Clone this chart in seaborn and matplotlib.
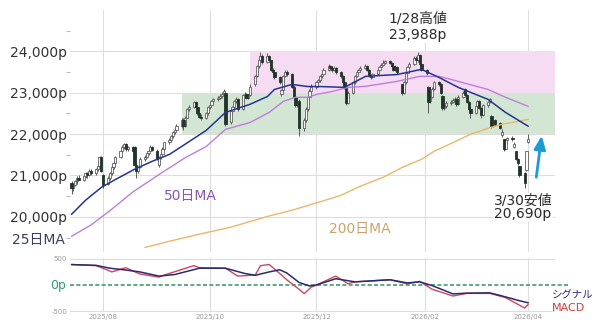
import numpy as np
import pandas as pd
import matplotlib
matplotlib.use("Agg")
import matplotlib.pyplot as plt
import matplotlib.dates as mdates
import seaborn as sns

sns.set_theme(style="white")
plt.rcParams["font.family"] = ["DejaVu Sans", "Noto Sans CJK JP"]
plt.rcParams["axes.unicode_minus"] = False

# ---- daily candles (2025-07-14 .. 2026-04-01, business days) ----
days = pd.bdate_range("2025-07-14", "2026-04-01")

opens = [
    20820, 20700, 20780, 20860, 20940,
    20900, 20980, 21050, 21000, 21120,
    21060, 21150, 21220, 21450, 21000,
    20800, 20950, 21050, 21200, 21300,
    21450, 21600, 21700, 21750, 21650,
    21680, 21700, 21250, 21100, 21200,
    21400, 21450, 21550, 21600, 21700,
    21600, 21250, 21440, 21520, 21650,
    21800, 21850, 21950, 22050, 22100,
    22200, 22350, 22200, 22400, 22600,
    22650, 22780, 22650, 22500, 22420,
    22400, 22500, 22650, 22700, 22800,
    22850, 22880, 22920, 22980, 23000,
    22300, 22550, 22650, 22800, 22850,
    22600, 22950, 22980, 22880, 22950,
    23200, 23400, 23650, 23800, 23900,
    23750, 23900, 23780, 23550, 23500,
    23380, 22980, 23060, 23400, 23500,
    23450, 23150, 22900, 22700, 22800,
    22150, 22350, 22600, 22900, 23050,
    23150, 23250, 23300, 23400, 23450,
    23550, 23650, 23600, 23550, 23600,
    23500, 23400, 23250, 23150, 22750,
    23000, 23250, 23400, 23500, 23550,
    23600, 23650, 23550, 23400, 23380,
    23450, 23550, 23620, 23680, 23730,
    23760, 23720, 23650, 23560, 23620,
    23200, 23000, 23250, 23480, 23620,
    23700, 23850, 23780, 23920, 23700,
    23550, 23150, 22800, 22900, 23100,
    23250, 23200, 22920, 22620, 22680,
    22750, 22780, 22830, 22860, 22720,
    22900, 23080, 22950, 22780, 22600,
    22520, 22680, 22800, 22640, 22450,
    22700, 22780, 22430, 22200, 22350,
    22280, 21980, 21870, 21650, 21850,
    21900, 21700, 21580, 21400, 21220,
    21070, 21140, 21800,
]
highs = [
    20860, 20800, 20900, 20980, 21010,
    21020, 21090, 21080, 21150, 21160,
    21180, 21260, 21480, 21480, 21040,
    20980, 21080, 21230, 21340, 21480,
    21630, 21730, 21790, 21780, 21720,
    21720, 21720, 21280, 21240, 21440,
    21490, 21580, 21640, 21730, 21720,
    21640, 21470, 21560, 21680, 21820,
    21900, 21980, 22080, 22150, 22240,
    22380, 22380, 22430, 22640, 22700,
    22800, 22800, 22680, 22540, 22480,
    22540, 22680, 22740, 22830, 22880,
    22920, 22960, 23010, 23090, 23050,
    22580, 22690, 22830, 22900, 22870,
    22980, 23020, 23000, 22980, 23220,
    23430, 23680, 23840, 23980, 23930,
    23950, 23920, 23800, 23600, 23520,
    23400, 23100, 23430, 23560, 23540,
    23470, 23180, 22940, 22860, 22840,
    22400, 22650, 22930, 23100, 23200,
    23290, 23340, 23440, 23480, 23590,
    23690, 23680, 23630, 23640, 23620,
    23520, 23420, 23280, 23170, 23030,
    23280, 23430, 23530, 23580, 23640,
    23690, 23670, 23570, 23440, 23480,
    23580, 23650, 23710, 23780, 23800,
    23790, 23740, 23670, 23660, 23640,
    23220, 23280, 23510, 23650, 23740,
    23880, 23880, 23988, 23940, 23720,
    23580, 23170, 22950, 23140, 23290,
    23280, 23230, 22940, 22720, 22790,
    22820, 22870, 22900, 22880, 22940,
    23040, 23110, 22980, 22800, 22640,
    22710, 22830, 22820, 22660, 22730,
    22810, 22880, 22460, 22340, 22370,
    22300, 22120, 21890, 21880, 21940,
    21950, 21800, 21600, 21420, 21240,
    21090, 21600, 22000,
]
lows = [
    20560, 20620, 20740, 20800, 20880,
    20860, 20940, 20950, 20980, 21020,
    21020, 21100, 21200, 21080, 20700,
    20760, 20900, 21020, 21150, 21260,
    21420, 21560, 21650, 21600, 21600,
    21560, 21220, 20950, 21060, 21180,
    21350, 21420, 21500, 21560, 21580,
    21380, 21200, 21400, 21480, 21620,
    21760, 21820, 21900, 22000, 22060,
    22150, 22100, 22180, 22380, 22560,
    22620, 22600, 22450, 22380, 22340,
    22360, 22470, 22600, 22660, 22750,
    22800, 22840, 22880, 22940, 22200,
    22250, 22500, 22600, 22760, 22560,
    22580, 22900, 22840, 22850, 22920,
    23160, 23380, 23600, 23760, 23700,
    23720, 23750, 23520, 23450, 23340,
    23220, 22920, 23040, 23370, 23400,
    23120, 22880, 22650, 22660, 21950,
    22080, 22300, 22560, 22860, 23000,
    23100, 23200, 23260, 23350, 23420,
    23520, 23560, 23500, 23520, 23460,
    23360, 23220, 23100, 22700, 22720,
    22980, 23220, 23370, 23460, 23520,
    23570, 23520, 23370, 23340, 23350,
    23420, 23520, 23590, 23650, 23700,
    23690, 23620, 23520, 23530, 23460,
    22940, 22970, 23220, 23450, 23590,
    23670, 23740, 23750, 23660, 23520,
    23440, 22520, 22760, 22870, 23060,
    23160, 22960, 22580, 22580, 22640,
    22710, 22740, 22790, 22690, 22700,
    22870, 22920, 22750, 22570, 22400,
    22480, 22640, 22600, 22400, 22430,
    22660, 22740, 22150, 22160, 22200,
    22120, 21940, 21600, 21620, 21800,
    21840, 21660, 21370, 21260, 20960,
    20690, 21100, 21780,
]
closes = [
    20700, 20780, 20860, 20940, 20900,
    20980, 21050, 21000, 21120, 21060,
    21150, 21220, 21450, 21100, 20780,
    20950, 21050, 21200, 21300, 21450,
    21600, 21700, 21750, 21650, 21680,
    21600, 21250, 21100, 21200, 21400,
    21450, 21550, 21600, 21700, 21620,
    21400, 21440, 21520, 21650, 21800,
    21850, 21950, 22050, 22100, 22200,
    22350, 22200, 22400, 22600, 22650,
    22780, 22650, 22500, 22420, 22400,
    22500, 22650, 22700, 22800, 22850,
    22880, 22920, 22980, 23050, 22250,
    22550, 22650, 22800, 22850, 22600,
    22950, 22980, 22880, 22950, 23150,
    23400, 23650, 23800, 23900, 23750,
    23900, 23780, 23550, 23500, 23380,
    23250, 23060, 23400, 23500, 23450,
    23150, 22900, 22700, 22800, 22150,
    22350, 22600, 22900, 23050, 23150,
    23250, 23300, 23400, 23450, 23550,
    23650, 23600, 23550, 23600, 23500,
    23400, 23250, 23150, 22750, 23000,
    23250, 23400, 23500, 23550, 23600,
    23650, 23550, 23400, 23380, 23450,
    23550, 23620, 23680, 23730, 23760,
    23720, 23650, 23560, 23620, 23500,
    23000, 23250, 23480, 23620, 23700,
    23850, 23780, 23920, 23700, 23550,
    23480, 22770, 22900, 23100, 23250,
    23200, 23000, 22620, 22680, 22750,
    22780, 22830, 22860, 22720, 22900,
    23000, 22950, 22780, 22600, 22520,
    22680, 22800, 22640, 22450, 22700,
    22780, 22850, 22200, 22300, 22250,
    22150, 22050, 21650, 21850, 21900,
    21880, 21750, 21400, 21300, 21000,
    20830, 21580, 21880,
]

# ---- moving averages ----
ma25_dates = ["2025-07-14", "2025-07-22", "2025-07-31", "2025-08-08", "2025-08-19",
              "2025-08-29", "2025-09-08", "2025-09-16", "2025-09-29", "2025-10-10",
              "2025-10-24", "2025-11-03", "2025-11-07", "2025-11-17", "2025-11-26",
              "2025-12-03", "2025-12-17", "2025-12-29", "2026-01-16", "2026-01-30",
              "2026-02-09", "2026-02-20", "2026-03-09", "2026-03-19", "2026-04-01"]
ma25_vals = [20060, 20400, 20710, 20900, 21150, 21340, 21510, 21730, 22090, 22525,
             22720, 22910, 23080, 23200, 23150, 23150, 23130, 23395, 23440, 23565,
             23370, 23130, 22840, 22525, 22190]

ma50_dates = ["2025-07-14", "2025-07-25", "2025-08-05", "2025-08-18", "2025-09-03",
              "2025-09-17", "2025-09-29", "2025-10-10", "2025-10-24", "2025-11-04",
              "2025-11-12", "2025-11-19", "2025-11-26", "2025-12-01", "2025-12-10",
              "2025-12-19", "2025-12-29", "2026-01-16", "2026-01-29", "2026-02-09",
              "2026-02-16", "2026-03-09", "2026-03-19", "2026-04-01"]
ma50_vals = [19530, 19800, 20150, 20600, 21050, 21430, 21700, 22115, 22280, 22525,
             22790, 22890, 22890, 22960, 23030, 23130, 23155, 23275, 23395, 23395,
             23320, 23080, 22890, 22670]

ma200_dates = ["2025-08-25", "2025-09-08", "2025-09-25", "2025-10-13", "2025-11-03",
               "2025-11-17", "2025-12-02", "2025-12-15", "2025-12-26", "2026-01-08",
               "2026-01-19", "2026-01-30", "2026-02-06", "2026-02-16", "2026-02-27",
               "2026-03-09", "2026-03-17", "2026-04-01"]
ma200_vals = [19260, 19410, 19580, 19750, 20010, 20160, 20350, 20520, 20740, 20955,
              21195, 21390, 21580, 21775, 21995, 22140, 22235, 22355]

# ---- MACD / signal ----
signal_dates = ["2025-07-14", "2025-07-28", "2025-08-05", "2025-08-13", "2025-08-22",
                "2025-09-02", "2025-09-11", "2025-09-25", "2025-10-10", "2025-10-21",
                "2025-10-27", "2025-11-04", "2025-11-10", "2025-11-14", "2025-11-21",
                "2025-11-27", "2025-12-01", "2025-12-12", "2025-12-23", "2026-01-12",
                "2026-01-22", "2026-01-29", "2026-02-05", "2026-02-17", "2026-02-25",
                "2026-03-10", "2026-03-16", "2026-03-27", "2026-04-01"]
signal_vals = [390, 375, 320, 290, 250, 170, 200, 320, 320, 220,
               185, 250, 290, 230, 50, -20, 0, 120, 60, 100,
               40, 60, -10, -170, -155, -150, -200, -300, -340]

macd_dates = ["2025-07-14", "2025-07-28", "2025-08-04", "2025-08-06", "2025-08-14",
              "2025-08-22", "2025-09-02", "2025-09-05", "2025-09-22", "2025-09-25",
              "2025-10-10", "2025-10-17", "2025-10-27", "2025-10-30", "2025-11-04",
              "2025-11-10", "2025-11-14", "2025-11-21", "2025-11-24", "2025-11-28",
              "2025-12-01", "2025-12-12", "2025-12-19", "2025-12-23", "2026-01-12",
              "2026-01-22", "2026-01-29", "2026-02-05", "2026-02-17", "2026-02-25",
              "2026-03-10", "2026-03-19", "2026-03-30", "2026-04-01"]
macd_vals = [390, 370, 280, 250, 330, 210, 150, 190, 370, 330,
             320, 170, 190, 370, 390, 220, 100, -80, -165, -40,
             0, 170, 25, 60, 100, 20, 70, -80, -210, -160,
             -160, -240, -440, -370]

price_ticks = [20000, 21000, 22000, 23000, 24000]

# ---- colours ----
C_UP_EDGE = "#5e5e5e"
C_DOWN = "#22332a"
C_MA25 = "#25358e"
C_MA50 = "#bb7fdb"
C_MA200 = "#ebb66c"
C_PINK = "#f6dcf3"
C_GREEN = "#d3e5d3"
C_GRID = "#dddddd"
C_ZERO = "#3e9b6e"
C_MACD = "#d0455a"
C_SIG = "#2a2a6e"

def dn(s):
    return mdates.date2num(pd.Timestamp(s))

fig = plt.figure(figsize=(6.0, 3.28), dpi=100)
W, H = 600.0, 328.0
ax = fig.add_axes([70 / W, 1 - 252 / H, 485 / W, 242 / H])
ax2 = fig.add_axes([70 / W, 1 - 312.25 / H, 485 / W, 54.5 / H])

base = dn("2025-08-01")
xlim = (base - 18.86, base + 258.3)

x = mdates.date2num(days)
o = np.array(opens, float)
h = np.array(highs, float)
l = np.array(lows, float)
c = np.array(closes, float)
up = c >= o

# price zones
ax.fill_between([dn("2025-10-24"), xlim[1]], 23000, 24000, color=C_PINK, lw=0, zorder=1)
ax.fill_between([dn("2025-09-15"), xlim[1]], 22000, 23000, color=C_GREEN, lw=0, zorder=1)

# candles
ax.vlines(x, l, h, color="#5a5a5a", lw=0.7, zorder=3)
ax.bar(x[up], np.maximum(c - o, 10)[up], bottom=o[up], width=1.25,
       facecolor="white", edgecolor=C_UP_EDGE, linewidth=0.6, zorder=4)
ax.bar(x[~up], (o - c)[~up], bottom=c[~up], width=1.25,
       facecolor=C_DOWN, edgecolor=C_DOWN, linewidth=0.6, zorder=4)

# moving averages
sns.lineplot(x=[dn(d) for d in ma200_dates], y=ma200_vals, ax=ax, color=C_MA200, linewidth=1.0, zorder=5)
sns.lineplot(x=[dn(d) for d in ma50_dates], y=ma50_vals, ax=ax, color=C_MA50, linewidth=1.0, zorder=5)
sns.lineplot(x=[dn(d) for d in ma25_dates], y=ma25_vals, ax=ax, color=C_MA25, linewidth=1.1, zorder=6)

ax.set_xlim(*xlim)
ax.set_ylim(19150, 25000)
ax.set_yticks(price_ticks)
ax.set_yticklabels([f"{v:,}p" for v in price_ticks])
ax.set_yticks(np.arange(19500, 25000, 1000), minor=True)
months = mdates.MonthLocator(bymonth=[2, 4, 6, 8, 10, 12])
ax.xaxis.set_major_locator(months)
ax.grid(True, which="major", color=C_GRID, lw=0.8)
ax.set_axisbelow(True)
ax.tick_params(axis="y", which="major", length=0, pad=2, labelsize=10, labelcolor="#333333")
ax.tick_params(axis="y", which="minor", left=True, length=3, width=0.8, color="#bbbbbb")
ax.tick_params(axis="x", labelbottom=False, length=0)
ax.set_xlabel("")
ax.set_ylabel("")
for s in ax.spines.values():
    s.set_visible(False)

# annotations on the price panel
box = dict(facecolor="white", edgecolor="none", pad=1.0)
ax.text(dn("2026-01-28"), 24806, "1/28高値", ha="center", va="center", fontsize=10,
        color="#2a2a2a", bbox=box, zorder=8, clip_on=False)
ax.text(dn("2026-01-28"), 24400, f"{23988:,}p", ha="center", va="center", fontsize=10,
        color="#2a2a2a", bbox=box, zorder=8, clip_on=False)
ax.text(dn("2026-03-29"), 20383, "3/30安値", ha="center", va="center", fontsize=10,
        color="#2a2a2a", bbox=box, zorder=8)
ax.text(dn("2026-03-29"), 20068, f"{20690:,}p", ha="center", va="center", fontsize=10,
        color="#2a2a2a", bbox=box, zorder=8)
ax.text(dn("2025-09-05"), 20503, "50日MA", ha="left", va="center", fontsize=10, color="#8a55b0")
ax.text(dn("2025-12-26"), 19706, "200日MA", ha="center", va="center", fontsize=10, color="#c9a46a")
fig.text(12 / W, 1 - 240 / H, "25日MA", ha="left", va="center", fontsize=10, color="#3a4060")

ax.annotate("", xy=(base + 250.9, 22026), xytext=(base + 247.4, 20890),
            arrowprops=dict(arrowstyle="-|>,head_length=0.8,head_width=0.35",
                            color="#1e9bd7", lw=2.0, mutation_scale=10),
            annotation_clip=False, zorder=9)

# ---- MACD panel ----
sns.lineplot(x=[dn(d) for d in macd_dates], y=macd_vals, ax=ax2, color=C_MACD, linewidth=1.0, zorder=4)
sns.lineplot(x=[dn(d) for d in signal_dates], y=signal_vals, ax=ax2, color=C_SIG, linewidth=1.1, zorder=5)
ax2.axhline(0, xmin=0, xmax=(570 - 70) / 485, color=C_ZERO, ls=(0, (2.4, 1.4)), lw=1.2,
            clip_on=False, zorder=3)
ax2.set_xlim(*xlim)
ax2.set_ylim(-520, 520)
ax2.set_yticks([-500, 500])
ax2.set_yticklabels(["-500", "500"])
ax2.xaxis.set_major_locator(months)
ax2.xaxis.set_major_formatter(mdates.DateFormatter("%Y/%m"))
ax2.grid(True, color=C_GRID, lw=0.8)
ax2.set_axisbelow(True)
ax2.tick_params(axis="y", length=0, pad=2, labelsize=5, labelcolor="#999999")
ax2.tick_params(axis="x", length=0, pad=1.5, labelsize=5, labelcolor="#999999")
ax2.set_xlabel("")
ax2.set_ylabel("")
for s in ax2.spines.values():
    s.set_visible(False)

fig.text(66 / W, 1 - 285 / H, "0p", ha="right", va="center", fontsize=9, color="#2e9a80")
fig.text(552 / W, 1 - 295 / H, "シグナル", ha="left", va="center", fontsize=7.5, color=C_SIG)
fig.text(552 / W, 1 - 308 / H, "MACD", ha="left", va="center", fontsize=8, color="#d43a3a")

fig.savefig("out.png", dpi=100)
